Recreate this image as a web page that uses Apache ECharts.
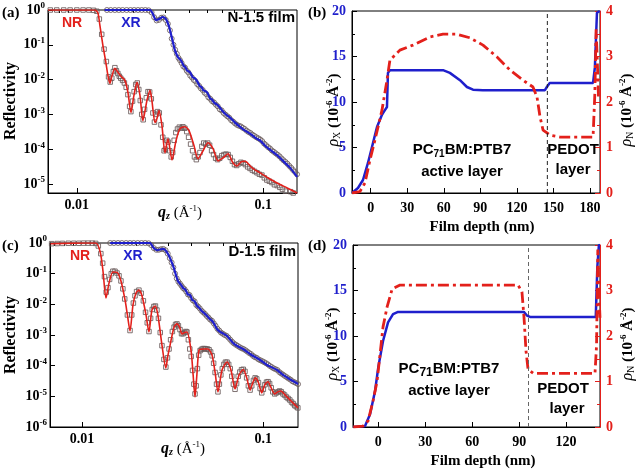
<!DOCTYPE html>
<html><head><meta charset="utf-8">
<script src="https://cdn.jsdelivr.net/npm/echarts@6/dist/echarts.min.js"></script>
<style>html,body{margin:0;padding:0;background:#fff}#c{width:640px;height:469px}</style>
</head><body><div id="c"></div><script>
// ---------- Panel (a): N-1.5 film reflectivity ----------
const nrFitA = [[0.0070,1],[0.0100,1],[0.0125,1],[0.01297,0.82],[0.01329,0.368],[0.01379,0.0974],[0.01431,0.0314],[0.01468,0.0132],[0.01504,0.0078],[0.01542,0.0124],[0.0160,0.0211],[0.01661,0.0162],[0.01724,0.0124],[0.01811,0.0095],[0.0188,0.0043],[0.01951,0.00113],[0.02025,0.0035],[0.02102,0.0083],[0.02182,0.0035],[0.02263,0.00066],[0.02378,0.0025],[0.02469,0.0049],[0.02529,0.0025],[0.02626,0.00058],[0.02692,0.00076],[0.0276,0.00129],[0.02864,0.00047],[0.02972,0.000079],[0.03085,0.0002],[0.03242,0.000049],[0.03406,0.000175],[0.03579,0.00039],[0.03807,0.00044],[0.04001,0.00034],[0.04256,0.000125],[0.04472,0.000053],[0.04757,0.00009],[0.0506,0.000153],[0.05383,0.000103],[0.05727,0.000046],[0.06091,0.000056],[0.0648,0.000074],[0.06894,0.00004],[0.07248,0.000033],[0.07617,0.000043],[0.08001,0.000045],[0.08729,0.000029],[0.09636,0.0000208],[0.1064,0.0000149],[0.1189,0.0000107],[0.1346,0.0000077],[0.1523,0.0000055]];
const xrFitA = [[0.0141,1],[0.0247,1],[0.0256,0.77],[0.0266,0.51],[0.0276,0.55],[0.0290,0.63],[0.0301,0.55],[0.0312,0.345],[0.0324,0.155],[0.0336,0.070],[0.0349,0.0438],[0.0362,0.0359],[0.0376,0.0241],[0.0383,0.0226],[0.0390,0.0184],[0.0405,0.0162],[0.0420,0.0116],[0.0431,0.0108],[0.0442,0.0090],[0.0458,0.0064],[0.0467,0.0061],[0.0476,0.0050],[0.0500,0.0043],[0.0519,0.0029],[0.0531,0.0027],[0.0545,0.0022],[0.0573,0.0018],[0.0602,0.0013],[0.0632,0.00099],[0.0665,0.00081],[0.0707,0.00058],[0.0752,0.00044],[0.0800,0.00034],[0.0851,0.00028],[0.0906,0.000214],[0.0964,0.000175],[0.1025,0.000125],[0.1090,0.000096],[0.1160,0.000074],[0.1234,0.000056],[0.1313,0.000040],[0.1397,0.000029],[0.1523,0.0000159]];
const nrDataA = [[0.0072,1],[0.0078,1],[0.0085,1],[0.0092,1],[0.0100,1],[0.0108,1],[0.0116,1],[0.0123,0.98],[0.0128,0.92],[0.0132,0.55],[0.0136,0.20],[0.0140,0.075],[0.0144,0.033],[0.0148,0.012],[0.0151,0.0085],[0.0154,0.011],[0.0157,0.017],[0.0160,0.022],[0.0163,0.018],[0.0166,0.015],[0.0169,0.0125],[0.0172,0.011],[0.0176,0.0095],[0.0180,0.008],[0.0184,0.006],[0.0188,0.0037],[0.0192,0.0017],[0.0195,0.0012],[0.0199,0.0024],[0.0203,0.0045],[0.0207,0.0072],[0.0211,0.0080],[0.0215,0.0052],[0.0219,0.0025],[0.0223,0.0010],[0.0227,0.0007],[0.0231,0.0014],[0.0236,0.0030],[0.0241,0.0045],[0.0246,0.0044],[0.0251,0.0028],[0.0256,0.0011],[0.0261,0.0006],[0.0266,0.0010],[0.0271,0.0012],[0.0277,0.0011],[0.0283,0.0005],[0.0289,0.00022],[0.0294,0.00009],[0.0299,0.00010],[0.0304,0.00018],[0.0309,0.00016],[0.0315,0.00009],[0.0321,0.00006],[0.0327,0.00008],[0.0333,0.00018],[0.0340,0.00030],[0.0347,0.00038],[0.0355,0.00043],[0.0363,0.00040],[0.0371,0.00044],[0.0380,0.00040],[0.0389,0.00032],[0.0398,0.00022],[0.0408,0.00014],[0.0418,0.00009],[0.0428,0.00006],[0.0438,0.00005],[0.0448,0.00006],[0.0458,0.00008],[0.0469,0.00012],[0.0480,0.00015],[0.0492,0.00014],[0.0504,0.00015],[0.0516,0.00013],[0.0529,0.00009],[0.0542,0.00007],[0.0556,0.000055],[0.0570,0.000050],[0.0585,0.000055],[0.0600,0.000065],[0.0616,0.000070],[0.0632,0.000072],[0.0649,0.000070],[0.0666,0.000058],[0.0684,0.000045],[0.0702,0.000036],[0.0721,0.000034],[0.0740,0.000038],[0.0760,0.000042],[0.0781,0.000040],[0.0803,0.000036],[0.0826,0.000031],[0.0850,0.000028],[0.0875,0.000025],[0.0900,0.000023],[0.0927,0.000021],[0.0955,0.000019],[0.0985,0.000018],[0.1015,0.000015],[0.1047,0.000013],[0.1080,0.000012],[0.1115,0.000011],[0.1150,0.0000095],[0.1190,0.0000090],[0.1230,0.0000080],[0.1270,0.0000070],[0.1315,0.0000062],[0.1360,0.0000050],[0.1405,0.0000060],[0.1450,0.0000055],[0.1500,0.0000052]];
const xrDataA = [[0.0145,1],[0.0152,1],[0.0160,1],[0.0168,1],[0.0176,1],[0.0185,1],[0.0194,1],[0.0203,1],[0.0213,1],[0.0223,1],[0.0233,1],[0.0243,0.98],[0.0252,0.85],[0.0260,0.62],[0.0268,0.50],[0.0276,0.52],[0.0284,0.60],[0.0292,0.61],[0.0300,0.52],[0.0308,0.40],[0.0316,0.26],[0.0323,0.15],[0.0330,0.10],[0.0337,0.072],[0.0344,0.055],[0.0351,0.042],[0.0358,0.036],[0.0365,0.030],[0.0373,0.024],[0.0381,0.022],[0.0389,0.018],[0.0397,0.016],[0.0406,0.013],[0.0415,0.0115],[0.0424,0.0098],[0.0433,0.0090],[0.0443,0.0074],[0.0453,0.0066],[0.0463,0.0056],[0.0474,0.0050],[0.0485,0.0042],[0.0496,0.0038],[0.0508,0.0031],[0.0520,0.0028],[0.0532,0.0024],[0.0545,0.0022],[0.0558,0.0019],[0.0571,0.0017],[0.0585,0.0014],[0.0599,0.0013],[0.0613,0.0011],[0.0628,0.00098],[0.0643,0.00088],[0.0658,0.00080],[0.0674,0.00068],[0.0690,0.00062],[0.0707,0.00055],[0.0724,0.00050],[0.0742,0.00047],[0.0760,0.00045],[0.0778,0.00041],[0.0797,0.00038],[0.0816,0.00034],[0.0836,0.00031],[0.0856,0.00029],[0.0877,0.00026],[0.0898,0.00024],[0.0920,0.00022],[0.0942,0.000205],[0.0965,0.00019],[0.0988,0.00017],[0.1012,0.000145],[0.1037,0.00013],[0.1062,0.000115],[0.1088,0.000105],[0.1114,0.000092],[0.1141,0.000084],[0.1169,0.000076],[0.1197,0.000069],[0.1226,0.000062],[0.1256,0.000054],[0.1286,0.000048],[0.1318,0.000043],[0.1350,0.000038],[0.1383,0.000033],[0.1416,0.000029],[0.1450,0.000025],[0.1485,0.000022],[0.1520,0.000019]];

// ---------- Panel (c): D-1.5 film reflectivity ----------
const nrFitC = [[0.0067,0.95],[0.0090,0.99],[0.0119,1.0],[0.0126,0.51],[0.01305,0.122],[0.01356,0.016],[0.0141,0.05],[0.0148,0.113],[0.0156,0.11],[0.0164,0.058],[0.01727,0.0139],[0.0178,0.0045],[0.0184,0.00135],[0.0191,0.0095],[0.01986,0.0234],[0.0206,0.029],[0.02143,0.0187],[0.02254,0.0045],[0.0234,0.00125],[0.0243,0.0065],[0.0253,0.0088],[0.0262,0.0045],[0.0276,0.00047],[0.0290,0.000084],[0.0297,0.0002],[0.0306,0.00047],[0.0322,0.00183],[0.0334,0.0023],[0.0345,0.0018],[0.0356,0.00108],[0.0368,0.0012],[0.0379,0.00125],[0.0399,0.000325],[0.0410,0.00005],[0.0420,0.0000095],[0.0430,0.00005],[0.0442,0.000325],[0.0465,0.00035],[0.0495,0.00035],[0.0521,0.000223],[0.0542,0.00006],[0.0562,0.000014],[0.0592,0.000072],[0.0631,0.000132],[0.0663,0.000072],[0.0698,0.0000174],[0.0735,0.00005],[0.0775,0.000075],[0.0810,0.00004],[0.0845,0.000016],[0.0875,0.000028],[0.0905,0.00004],[0.0940,0.000028],[0.0980,0.000013],[0.1020,0.000024],[0.1061,0.00003],[0.1100,0.00002],[0.1156,0.000012],[0.1200,0.000014],[0.1250,0.000015],[0.1320,0.000011],[0.1404,0.0000076],[0.1553,0.0000042]];
const xrFitC = [[0.0143,1],[0.0237,1],[0.0246,0.74],[0.0259,0.59],[0.0280,0.64],[0.0298,0.44],[0.0318,0.178],[0.0338,0.0577],[0.0350,0.045],[0.0361,0.0341],[0.0372,0.030],[0.0383,0.021],[0.0394,0.0202],[0.0405,0.014],[0.0418,0.0125],[0.0431,0.00883],[0.0445,0.0075],[0.0460,0.0058],[0.0475,0.0050],[0.0489,0.00417],[0.0505,0.0034],[0.0521,0.0029],[0.0538,0.0022],[0.0555,0.00157],[0.0575,0.0013],[0.0595,0.00115],[0.0631,0.00093],[0.0681,0.000549],[0.0725,0.00042],[0.0773,0.00035],[0.0845,0.00024],[0.0959,0.000153],[0.1048,0.000105],[0.1190,0.000072],[0.1285,0.0000497],[0.1400,0.000036],[0.1553,0.0000253]];
const nrDataC = [[0.0068,0.95],[0.0073,0.96],[0.0078,0.97],[0.0084,0.98],[0.0090,0.98],[0.0096,0.98],[0.0102,0.99],[0.0108,0.99],[0.0114,0.99],[0.0119,0.97],[0.0123,0.80],[0.0127,0.45],[0.0130,0.22],[0.0133,0.08],[0.0136,0.025],[0.0139,0.035],[0.0142,0.065],[0.0145,0.10],[0.0148,0.12],[0.0152,0.12],[0.0156,0.105],[0.0160,0.085],[0.0164,0.058],[0.0168,0.032],[0.0172,0.015],[0.0178,0.0045],[0.0184,0.0014],[0.0188,0.0045],[0.0192,0.011],[0.0196,0.019],[0.0200,0.026],[0.0206,0.029],[0.0212,0.023],[0.0218,0.013],[0.0224,0.0055],[0.0229,0.0025],[0.0234,0.0013],[0.0239,0.0035],[0.0244,0.0068],[0.0249,0.0085],[0.0254,0.0088],[0.0259,0.0065],[0.0264,0.0035],[0.0270,0.0012],[0.0276,0.00045],[0.0283,0.00016],[0.0290,0.00009],[0.0296,0.00018],[0.0302,0.00035],[0.0308,0.0007],[0.0315,0.0013],[0.0322,0.0018],[0.0328,0.0022],[0.0334,0.0023],[0.0340,0.0020],[0.0347,0.0015],[0.0354,0.0011],[0.0361,0.0011],[0.0368,0.0012],[0.0374,0.0013],[0.0379,0.00125],[0.0386,0.0007],[0.0393,0.00035],[0.0400,0.00020],[0.0407,0.00007],[0.0414,0.000025],[0.0420,0.000012],[0.0426,0.000022],[0.0433,0.00008],[0.0440,0.00022],[0.0448,0.00031],[0.0456,0.00034],[0.0465,0.00036],[0.0474,0.00036],[0.0483,0.00035],[0.0492,0.00035],[0.0502,0.00033],[0.0512,0.00028],[0.0522,0.00021],[0.0532,0.00012],[0.0542,0.00006],[0.0552,0.000025],[0.0562,0.000014],[0.0572,0.000025],[0.0583,0.00005],[0.0594,0.00008],[0.0606,0.00011],[0.0618,0.00013],[0.0631,0.00013],[0.0644,0.00011],[0.0657,0.00008],[0.0670,0.000045],[0.0684,0.000025],[0.0698,0.000017],[0.0712,0.000026],[0.0727,0.000045],[0.0742,0.000062],[0.0758,0.000074],[0.0775,0.000076],[0.0792,0.000065],[0.0809,0.00004],[0.0827,0.000022],[0.0845,0.000016],[0.0863,0.000022],[0.0882,0.000033],[0.0901,0.00004],[0.0920,0.000037],[0.0940,0.000028],[0.0960,0.000018],[0.0980,0.000013],[0.1000,0.000017],[0.1020,0.000024],[0.1041,0.000029],[0.1062,0.000030],[0.1083,0.000026],[0.1105,0.000019],[0.1128,0.000014],[0.1156,0.000012],[0.1180,0.000013],[0.1205,0.000014],[0.1230,0.000015],[0.1256,0.000014],[0.1283,0.000012],[0.1310,0.000011],[0.1340,0.0000095],[0.1370,0.0000085],[0.1400,0.0000076],[0.1430,0.0000065],[0.1460,0.0000058],[0.1490,0.0000050],[0.1520,0.0000046],[0.1550,0.0000042]];
const xrDataC = [[0.0143,1],[0.0150,1],[0.0158,1],[0.0166,1],[0.0175,1],[0.0184,1],[0.0193,1],[0.0203,1],[0.0213,1],[0.0223,1],[0.0233,0.98],[0.0241,0.85],[0.0249,0.68],[0.0257,0.60],[0.0265,0.60],[0.0273,0.63],[0.0281,0.64],[0.0289,0.58],[0.0297,0.45],[0.0305,0.32],[0.0312,0.23],[0.0319,0.16],[0.0326,0.10],[0.0333,0.070],[0.0340,0.055],[0.0347,0.047],[0.0354,0.040],[0.0361,0.034],[0.0368,0.031],[0.0376,0.026],[0.0384,0.021],[0.0392,0.020],[0.0400,0.016],[0.0409,0.0135],[0.0418,0.0124],[0.0427,0.0095],[0.0436,0.0085],[0.0446,0.0074],[0.0456,0.0062],[0.0466,0.0055],[0.0476,0.0049],[0.0487,0.0042],[0.0498,0.0037],[0.0509,0.0032],[0.0521,0.0029],[0.0533,0.0024],[0.0545,0.0020],[0.0558,0.0016],[0.0571,0.0014],[0.0584,0.0012],[0.0598,0.0011],[0.0612,0.0010],[0.0627,0.00094],[0.0642,0.00082],[0.0657,0.00070],[0.0673,0.00060],[0.0689,0.00053],[0.0706,0.00048],[0.0723,0.00044],[0.0741,0.00040],[0.0759,0.00037],[0.0777,0.00035],[0.0796,0.00032],[0.0815,0.00029],[0.0835,0.00026],[0.0855,0.00024],[0.0876,0.00021],[0.0897,0.00019],[0.0919,0.00018],[0.0941,0.00016],[0.0964,0.00015],[0.0987,0.00014],[0.1011,0.00013],[0.1035,0.00012],[0.1060,0.00011],[0.1086,0.000098],[0.1112,0.000090],[0.1139,0.000082],[0.1167,0.000077],[0.1195,0.000072],[0.1224,0.000062],[0.1253,0.000056],[0.1284,0.000051],[0.1315,0.000046],[0.1347,0.000042],[0.1380,0.000038],[0.1413,0.000035],[0.1447,0.000031],[0.1482,0.000029],[0.1518,0.000027],[0.1553,0.000025]];

// ---------- Panel (b): N-1.5 SLD profiles (depth nm, SLD) ----------
const rhoXB = [[-15.3,0],[-10.4,0.55],[-6.3,1.43],[-2.2,3.3],[1.1,5.05],[5.2,7.25],[9.3,8.6],[11.7,9.1],[13.4,9.45],[14.2,13.2],[15.8,13.5],[59.4,13.5],[65,13.2],[73.3,12.4],[79,11.65],[84,11.35],[92,11.3],[143,11.3],[144.6,11.65],[147,12.1],[182.5,12.1],[184,13.8],[185.7,19.8],[186.7,20],[188,20]];
const rhoNB = [[-15.3,0],[-8.8,0.03],[-4.7,0.22],[-0.6,0.72],[3.5,1.16],[9.3,1.82],[13.4,2.48],[15.8,2.92],[24,3.14],[34.7,3.25],[48.7,3.43],[59.4,3.49],[70.9,3.49],[81.5,3.41],[92.2,3.25],[103.7,2.99],[114.4,2.7],[125,2.48],[133.2,2.33],[136.5,2.11],[139,1.67],[141.5,1.38],[147.3,1.27],[155.4,1.23],[182.5,1.23],[184,2.2],[185,3.6],[186,2.9],[187,2.07],[188,2.07]];
const dividerB = 145;
// ---------- Panel (d): D-1.5 SLD profiles ----------
const rhoXD = [[-16,0],[-8.5,0.1],[-5.3,1.4],[-2.1,3.96],[0,6.6],[3,9.45],[6.2,11.5],[9.4,12.4],[12.6,12.65],[93,12.65],[95,12.25],[97,12.1],[139,12.1],[140,17.6],[141,20],[141.7,20]];
const rhoND = [[-16,0],[-9.8,0.02],[-6.6,0.13],[-3.4,0.57],[-0.8,1.01],[1.1,1.6],[3,2.2],[5.6,2.64],[8.8,3.03],[13.9,3.12],[89.3,3.12],[91.8,2.97],[93.1,2.42],[94.4,1.67],[95.7,1.27],[99,1.18],[138.5,1.18],[139.5,1.8],[140.3,3.9],[141,3.0],[141.7,2.4]];
const dividerD = 96;

// ---------- tick values ----------
const qMajor = [0.01, 0.1];
const qMinor = [0.007,0.008,0.009,0.02,0.03,0.04,0.05,0.06,0.07,0.08,0.09];
const rTicksA = [1e-5,1e-4,1e-3,1e-2,1e-1,1];
const rTicksC = [1e-6,1e-5,1e-4,1e-3,1e-2,1e-1,1];
const depthTicksB = [0,30,60,90,120,150,180];
const depthTicksD = [0,30,60,90,120];

const RED = '#e3201b', BLUE = '#1f1fcc', GREY = '#6a5a5a';
const SERIF = '"Liberation Serif","Times New Roman",serif';
const SANS = '"Liberation Sans",Arial,sans-serif';

const chart = echarts.init(document.getElementById('c'), null, {renderer:'canvas'});

function logRich(color){
  return { b:{fontFamily:SERIF,fontWeight:'bold',fontSize:14,color:color},
           s:{fontFamily:SERIF,fontWeight:'bold',fontSize:9,color:color,padding:[0,0,8,0]} };
}
function logXAxis(grid, min, max){
  return [{
    type:'log', gridIndex:grid, min:min, max:max, logBase:10,
    axisLine:{onZero:false,lineStyle:{color:'#000',width:1}},
    axisTick:{inside:true,length:5,customValues:qMajor,lineStyle:{color:'#000'}},
    axisLabel:{customValues:qMajor,formatter:v=>String(+v.toPrecision(3)),fontFamily:SERIF,fontWeight:'bold',fontSize:14,color:'#000',margin:5},
    splitLine:{show:false}, minorTick:{show:false}
  },{
    type:'log', gridIndex:grid, min:min, max:max, logBase:10,
    axisLine:{show:false,onZero:false},
    axisTick:{inside:true,length:3,customValues:qMinor,lineStyle:{color:'#000'}},
    axisLabel:{show:false,customValues:qMinor},
    splitLine:{show:false}
  }];
}
function logYAxis(grid, min, ticks){
  return {
    type:'log', gridIndex:grid, min:min, max:1, logBase:10,
    axisLine:{show:true,onZero:false,lineStyle:{color:'#000'}},
    axisTick:{inside:true,length:5,customValues:ticks,lineStyle:{color:'#000'}},
    axisLabel:{customValues:ticks,margin:3,formatter:v=>'{b|10}{s|'+Math.round(Math.log10(v))+'}',rich:logRich('#000')},
    splitLine:{show:false}
  };
}
function depthX(grid, min, max, ticks){
  return {
    type:'value', gridIndex:grid, min:min, max:max,
    axisLine:{onZero:false,lineStyle:{color:'#000'}},
    axisTick:{inside:true,length:5,customValues:ticks,lineStyle:{color:'#000'}},
    axisLabel:{customValues:ticks,fontFamily:SERIF,fontWeight:'bold',fontSize:14,color:'#000',margin:8},
    splitLine:{show:false}
  };
}
function sldY(grid, pos, max, interval, color, lineColor){
  return {
    type:'value', gridIndex:grid, position:pos, min:0, max:max, interval:interval,
    axisLine:{show:true,onZero:false,lineStyle:{color:lineColor,width:1}},
    axisTick:{inside:true,length:5,lineStyle:{color:lineColor}},
    minorTick:{show:true,splitNumber:2,length:3,lineStyle:{color:lineColor}},
    axisLabel:{fontFamily:SERIF,fontWeight:'bold',fontSize:14,color:color,margin:6},
    splitLine:{show:false}
  };
}

const xAxes = [].concat(
  logXAxis(0, 0.007, 0.152),
  logXAxis(1, 0.00666, 0.1553),
  [depthX(2, -15.3, 188.2, depthTicksB), depthX(3, -16.2, 141.7, depthTicksD)]
);
const yAxes = [
  logYAxis(0, 5.5e-6, rTicksA),
  logYAxis(1, 1e-6, rTicksC),
  sldY(2,'left',20,5,BLUE,'#000'),
  sldY(2,'right',4,1,RED,RED),
  sldY(3,'left',20,5,BLUE,'#000'),
  sldY(3,'right',4,1,RED,RED)
];

function marks(data, xi, yi, sym, size){
  return {type:'scatter', xAxisIndex:xi, yAxisIndex:yi, data:data, symbol:sym, symbolSize:size,
    itemStyle:{color:'rgba(0,0,0,0)',borderColor:GREY,borderWidth:1,opacity:0.85}, silent:true, z:2};
}
function fit(data, xi, yi, color, w, extra){
  return Object.assign({type:'line', xAxisIndex:xi, yAxisIndex:yi, data:data, showSymbol:false, symbol:'none',
    smooth:0.25, lineStyle:{color:color,width:w}, silent:true, z:3, animation:false}, extra||{});
}

const series = [
  marks(nrDataA,0,0,'rect',4.5), marks(xrDataA,0,0,'circle',5),
  fit(nrFitA,0,0,RED,1.6), fit(xrFitA,0,0,BLUE,2.2),
  marks(nrDataC,2,1,'rect',4.5), marks(xrDataC,2,1,'circle',5),
  fit(nrFitC,2,1,RED,1.6), fit(xrFitC,2,1,BLUE,2.2),
  fit(rhoXB,4,2,BLUE,2.5,{smooth:false}),
  fit(rhoNB,4,3,RED,2.8,{smooth:false,lineStyle:{color:RED,width:2.8,type:[11,4,3,4]}}),
  fit([[dividerB,0],[dividerB,20]],4,2,'#000',1,{smooth:false,lineStyle:{color:'#222',width:1,type:[4,3]}}),
  fit(rhoXD,5,4,BLUE,2.5,{smooth:false}),
  fit(rhoND,5,5,RED,2.8,{smooth:false,lineStyle:{color:RED,width:2.8,type:[11,4,3,4]}}),
  fit([[dividerD,0],[dividerD,20]],5,4,'#000',1,{smooth:false,lineStyle:{color:'#666',width:1,type:[4,3]}})
];

function T(x,y,text,opt){
  const o = Object.assign({align:'center',vAlign:'middle',font:'bold 15px '+SANS,color:'#000',rot:0,rich:null},opt||{});
  const style = {text:text, x:0, y:0, align:o.align, verticalAlign:o.vAlign, font:o.font, fill:o.color};
  if (o.rich) style.rich = o.rich;
  return {type:'text', x:x, y:y, rotation:o.rot, style:style, z:100, silent:true};
}
const serifB = 'bold 15px '+SERIF;
const qRich = {
  i:{fontFamily:SERIF,fontWeight:'bold',fontStyle:'italic',fontSize:16,color:'#000'},
  sb:{fontFamily:SERIF,fontWeight:'bold',fontStyle:'italic',fontSize:10,color:'#000',padding:[7,0,0,0]},
  n:{fontFamily:SERIF,fontSize:15,color:'#000'},
  sp:{fontFamily:SERIF,fontSize:9,color:'#000',padding:[0,0,8,0]}
};
function rhoRich(color){
  return {
    i:{fontFamily:SERIF,fontStyle:'italic',fontSize:16,color:color},
    sb:{fontFamily:SERIF,fontSize:10,color:color,padding:[7,0,0,0]},
    n:{fontFamily:SERIF,fontWeight:'bold',fontSize:15,color:color},
    sp:{fontFamily:SERIF,fontWeight:'bold',fontSize:9,color:color,padding:[0,0,8,0]}
  };
}
const pcRich = {
  n:{fontFamily:SANS,fontWeight:'bold',fontSize:15,color:'#000'},
  sb:{fontFamily:SANS,fontWeight:'bold',fontSize:10,color:'#000',padding:[8,0,0,0]}
};
const pcRichD = {
  n:{fontFamily:SANS,fontWeight:'bold',fontSize:15,color:'#000'},
  sb:{fontFamily:SANS,fontWeight:'bold',fontSize:12,color:'#000',padding:[8,0,0,0]}
};
const qText = '{i|q}{sb|z}{n| (Å}{sp|-1}{n|)}';
const rhoXText = '{i|ρ}{sb|X}{n| (10}{sp|-6}{n| Å}{sp|-2}{n|)}';
const rhoNText = '{i|ρ}{sb|N}{n| (10}{sp|-6}{n| Å}{sp|-2}{n|)}';
const R90 = Math.PI/2;

const graphics = [
  T(2,13,'(a)',{align:'left',font:serifB}),
  T(308,13,'(b)',{align:'left',font:serifB}),
  T(2,246,'(c)',{align:'left',font:serifB}),
  T(308,246,'(d)',{align:'left',font:serifB}),
  T(11,101,'Reflectivity',{rot:R90,font:'bold 16px '+SERIF}),
  T(11,335,'Reflectivity',{rot:R90,font:'bold 16px '+SERIF}),
  T(180,213,qText,{rich:qRich}),
  T(183,449,qText,{rich:qRich}),
  T(72,23,'NR',{color:RED,font:'bold 14px '+SANS}),
  T(131,23,'XR',{color:BLUE,font:'bold 14px '+SANS}),
  T(295,18,'N-1.5 film',{align:'right'}),
  T(80,256,'NR',{color:RED,font:'bold 14px '+SANS}),
  T(133,256,'XR',{color:BLUE,font:'bold 14px '+SANS}),
  T(296,252,'D-1.5 film',{align:'right'}),
  T(334,110,rhoXText,{rot:R90,rich:rhoRich(BLUE)}),
  T(627,110,rhoNText,{rot:R90,rich:rhoRich(RED)}),
  T(333,344,rhoXText,{rot:R90,rich:rhoRich(BLUE)}),
  T(628,344,rhoNText,{rot:R90,rich:rhoRich(RED)}),
  T(482,227,'Film depth (nm)',{font:serifB}),
  T(483,461,'Film depth (nm)',{font:serifB}),
  T(462,150,'{n|PC}{sb|71}{n|BM:PTB7}',{rich:pcRich}),
  T(462,172,'active layer'),
  T(573,150,'PEDOT'),
  T(573,170,'layer'),
  T(449,369,'{n|PC}{sb|71}{n|BM:PTB7}',{rich:pcRichD}),
  T(449,391,'active layer'),
  T(563,389,'PEDOT'),
  T(567,409,'layer')
];

chart.setOption({
  animation:false,
  backgroundColor:'#fff',
  grid:[
    {left:48,top:10,width:249,height:183,show:true,borderColor:'#000',borderWidth:1,backgroundColor:'transparent',outerBoundsMode:'none'},
    {left:50,top:243,width:248,height:184,show:true,borderColor:'#000',borderWidth:1,backgroundColor:'transparent',outerBoundsMode:'none'},
    {left:352,top:11,width:248,height:182,show:true,borderColor:'#000',borderWidth:1,backgroundColor:'transparent',outerBoundsMode:'none'},
    {left:353,top:245,width:247,height:182,show:true,borderColor:'#000',borderWidth:1,backgroundColor:'transparent',outerBoundsMode:'none'}
  ],
  xAxis:xAxes,
  yAxis:yAxes,
  series:series,
  graphic:graphics
});
</script></body></html>
